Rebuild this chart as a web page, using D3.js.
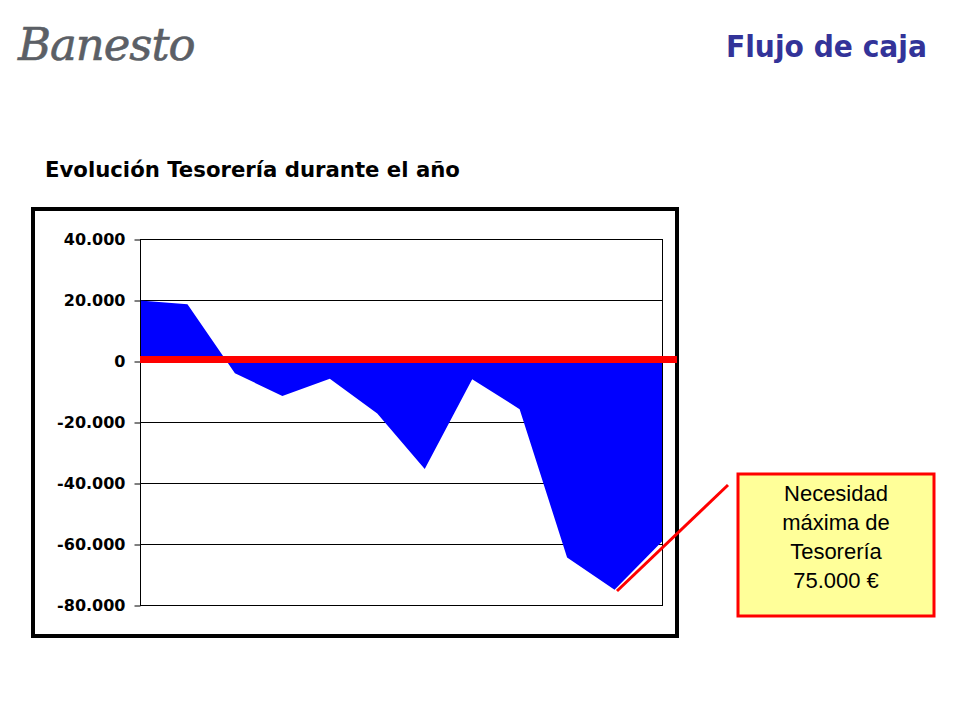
<!DOCTYPE html>
<html>
<head>
<meta charset="utf-8">
<script src="https://cdn.jsdelivr.net/npm/d3@7"></script>
<style>
  html, body { margin: 0; padding: 0; background: #fff; }
  svg { display: block; }
</style>
</head>
<body>
<svg id="chart" width="960" height="720"></svg>
<script>
// ---- data ----
const months = ["Ene","Feb","Mar","Abr","May","Jun","Jul","Ago","Sep","Oct","Nov","Dic"];
const tesoreria = [19800, 18600, -4000, -11500, -5800, -17200, -35400, -6000, -15800, -64400, -75000, -59200];
const yTicks = [40000, 20000, 0, -20000, -40000, -60000, -80000];
const pageTitle = "Flujo de caja";
const chartTitle = "Evolución Tesorería durante el año";
const logoText = "Banesto";
const noteLines = ["Necesidad", "máxima de", "Tesorería", "75.000 €"];

const svg = d3.select("#chart");

function fitText(sel, targetWidth) {
  const node = sel.node();
  let fs = parseFloat(sel.attr("font-size"));
  const w = node.getComputedTextLength();
  if (w > 0) sel.attr("font-size", (fs * targetWidth / w).toFixed(2));
}

// logo
const logo = svg.append("text")
  .attr("x", 18).attr("y", 60)
  .attr("font-family", "'DejaVu Serif', 'Liberation Serif', serif")
  .attr("font-style", "italic")
  .attr("font-size", 48)
  .attr("fill", "#5b5f66")
  .attr("stroke", "#5b5f66").attr("stroke-width", 0.6)
  .attr("letter-spacing", "-1")
  .text(logoText);
fitText(logo, 177);

// page title
svg.append("text")
  .attr("x", 927).attr("y", 57)
  .attr("text-anchor", "end")
  .attr("font-family", "'DejaVu Sans', Verdana, sans-serif")
  .attr("font-weight", "bold")
  .attr("font-size", 30)
  .attr("textLength", 201)
  .attr("lengthAdjust", "spacingAndGlyphs")
  .attr("fill", "#333399")
  .text(pageTitle);

// chart title
const ct = svg.append("text")
  .attr("x", 45).attr("y", 177)
  .attr("font-family", "'DejaVu Sans', Verdana, sans-serif")
  .attr("font-weight", "bold")
  .attr("font-size", 20)
  .attr("fill", "#000")
  .text(chartTitle);
fitText(ct, 415);

// chart frame
svg.append("rect")
  .attr("x", 33).attr("y", 209).attr("width", 644).attr("height", 427)
  .attr("fill", "#fff").attr("stroke", "#000").attr("stroke-width", 4);

// scales
const x = d3.scalePoint().domain(months).range([140, 662]);
const y = d3.scaleLinear().domain([-80000, 40000]).range([605, 239]);

const locale = d3.formatLocale({ decimal: ",", thousands: ".", grouping: [3], currency: ["", " €"], minus: "-" });
const fmt = locale.format(",.0f");

// gridlines
svg.append("g").selectAll("line").data(yTicks).join("line")
  .attr("x1", 140).attr("x2", 662)
  .attr("y1", d => Math.round(y(d)) + 0.5).attr("y2", d => Math.round(y(d)) + 0.5)
  .attr("stroke", "#000").attr("stroke-width", 1);

// area
const area = d3.area()
  .x((d, i) => x(months[i]))
  .y0(y(0))
  .y1(d => y(d));
svg.append("path")
  .datum(tesoreria)
  .attr("d", area)
  .attr("fill", "#0000ff");

// plot vertical borders
svg.append("line").attr("x1", 140.5).attr("x2", 140.5).attr("y1", y(40000)).attr("y2", y(-80000) + 1)
  .attr("stroke", "#000");
svg.append("line").attr("x1", 662.5).attr("x2", 662.5).attr("y1", y(40000)).attr("y2", y(-80000) + 1)
  .attr("stroke", "#000");

// y axis
const yAxis = d3.axisLeft(y).tickValues(yTicks).tickFormat(fmt).tickSize(6).tickPadding(9);
const ga = svg.append("g").attr("transform", "translate(140.5,0.5)").call(yAxis);
ga.select(".domain").remove();
ga.selectAll(".tick line").attr("stroke", "#000");
ga.selectAll(".tick text")
  .attr("font-family", "'DejaVu Sans', Verdana, sans-serif")
  .attr("font-weight", "bold")
  .attr("font-size", 16)
  .attr("fill", "#000");

// red zero line
svg.append("line")
  .attr("x1", 140).attr("x2", 677)
  .attr("y1", y(0) - 1.5).attr("y2", y(0) - 1.5)
  .attr("stroke", "#ff0000").attr("stroke-width", 7);

// callout connector
svg.append("line")
  .attr("x1", 728).attr("y1", 485).attr("x2", 617).attr("y2", 591)
  .attr("stroke", "#ff0000").attr("stroke-width", 3);

// callout box
svg.append("rect")
  .attr("x", 738).attr("y", 474).attr("width", 196).attr("height", 142)
  .attr("fill", "#ffff99").attr("stroke", "#ff0000").attr("stroke-width", 3);

svg.append("g").selectAll("text").data(noteLines).join("text")
  .attr("x", 836).attr("y", (d, i) => 501 + i * 29)
  .attr("text-anchor", "middle")
  .attr("font-family", "'Liberation Sans', Arial, sans-serif")
  .attr("font-size", 22)
  .attr("fill", "#000")
  .text(d => d);
</script>
</body>
</html>
